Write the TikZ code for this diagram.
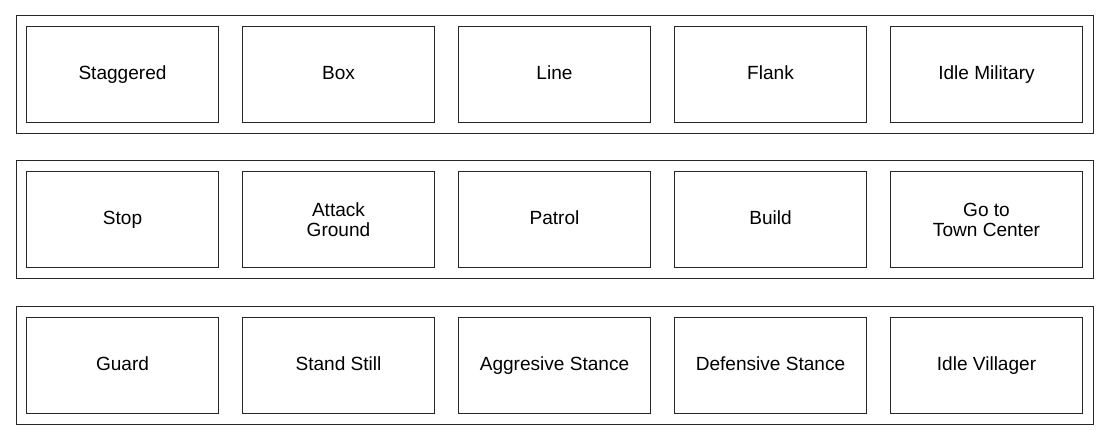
\documentclass[tikz,border=0pt]{standalone}
\usepackage{fontspec}
\setmainfont{Liberation Sans}

\begin{document}
\begin{tikzpicture}[x=0.75pt, y=-0.75pt,
    group/.style ={rectangle, draw=black!85, line width=0.75pt, minimum width=807.75pt, minimum height=88.5pt, inner sep=0pt},
    command/.style ={rectangle, draw=black!85, line width=0.75pt, minimum width=144pt, minimum height=72pt, inner sep=0pt,
                     align=center, font=\fontsize{14.3}{15}\selectfont, text height=11pt, text depth=3.5pt},
    twoline/.style ={command, text height={}, text depth={}}]
   \useasboundingbox (0,0) rectangle (1109,441);
   % frames
   \node[group] (row1) at (554.5,75)  {};
   \node[group] (row2) at (554.5,220) {};
   \node[group] (row3) at (554.5,365.5) {};
   % formations
   \node[command] (staggered) at (122.5,75) {Staggered};
   \node[command] (box)       at (338.5,75) {Box};
   \node[command] (line)      at (554.5,75) {Line};
   \node[command] (flank)     at (770.5,75) {Flank};
   \node[command] (idlemil)   at (986.5,75) {Idle Military};
   % orders
   \node[command] (stop)      at (122.5,220) {Stop};
   \node[twoline] (attackgr)  at (338.5,220) {Attack\\Ground};
   \node[command] (patrol)    at (554.5,220) {Patrol};
   \node[command] (build)     at (770.5,220) {Build};
   \node[twoline] (gotc)      at (986.5,220) {Go to\\Town Center};
   % stances
   \node[command] (guard)     at (122.5,365.5) {Guard};
   \node[command] (standstill) at (338.5,365.5) {Stand Still};
   \node[command] (aggr)      at (554.5,365.5) {Aggresive Stance};
   \node[command] (defn)      at (770.5,365.5) {Defensive Stance};
   \node[command] (idlevil)   at (986.5,365.5) {Idle Villager};
\end{tikzpicture}
\end{document}
